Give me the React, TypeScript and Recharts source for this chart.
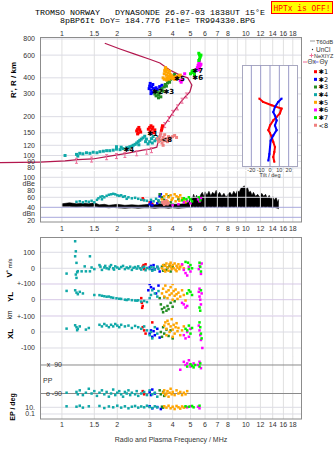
import React from 'react';
import { ComposedChart, ScatterChart, Scatter, Area, XAxis, YAxis, ReferenceLine } from 'recharts';

const SANS = "'Liberation Sans', Arial, sans-serif";
const MONO = "'Liberation Mono', 'DejaVu Sans Mono', monospace";

// frequency axis (MHz, log)
const FREQ_TICKS = [1, 1.5, 2, 3, 4, 5, 6, 7, 8, 9, 10, 12, 14, 16, 18];
const F_DOMAIN: [number, number] = [0.76, 20.2];

// echo classes *1..*8
const COLORS = ['#ff0000', '#0000ff', '#228b22', '#10a8a8', '#ffa500', '#ff00ff', '#00f000', '#f08080'];
const LEGEND_NAMES = ['✱1', '✱2', '✱3', '✱4', '✱5', '✱6', '✱7', '<8'];
const PROFILE_COLOR = '#b3174e';
const NE_COLOR = '#ee6f9a';

// ---- virtual height R' (MHz, km)
const H_TICKS = [80, 90, 100, 120, 150, 200, 300, 400, 600, 800];
const H1 = [[2.55,155],[2.58,160],[2.6,150],[2.62,165],[2.65,158],[2.68,152],[2.58,147],[2.95,160],[3.0,165],[3.02,155],[3.05,170],[3.1,160],[3.15,150],[3.12,166],[3.2,158],[3.5,163],[3.52,170],[3.48,157]];
const H2 = [[2.98,330],[3.0,345],[3.02,362],[3.05,320],[3.08,340],[3.1,308],[3.12,355],[3.15,330],[3.2,315],[3.25,335],[3.3,325],[3.4,342],[3.45,330],[3.05,302],[3.5,350]];
const H3 = [[3.2,300],[3.25,290],[3.3,310],[3.35,295],[3.4,305],[3.45,320],[3.5,330],[3.55,315],[3.6,340],[3.65,355],[3.7,345],[3.75,365],[3.8,380],[3.85,370],[3.9,390],[4.0,400],[4.05,412],[4.1,425],[3.45,285],[3.35,280],[3.95,405]];
const H4 = [[1.04,100],[1.2,102],[1.22,99],[1.25,104],[1.3,103],[1.36,105],[1.42,104],[1.48,106],[1.55,105],[1.61,107],[1.68,108],[1.75,109],[1.82,109],[1.9,110],[1.98,112],[2.07,111],[2.15,113],[2.25,115],[2.3,114],[2.34,117],[2.4,118],[2.44,120],[2.5,122],[2.55,125],[2.6,128],[2.65,131],[2.7,134],[2.76,137],[2.82,141],[2.88,134],[2.94,123],[3.0,128],[3.07,135],[3.13,140],[3.2,130],[3.27,134],[3.34,138],[3.4,131],[1.98,117],[2.1,116],[2.62,121],[2.85,128],[3.1,125]];
const H5 = [[3.55,400],[3.6,430],[3.62,455],[3.65,470],[3.68,445],[3.7,420],[3.72,400],[3.75,460],[3.78,435],[3.8,410],[3.82,390],[3.85,450],[3.88,425],[3.9,400],[3.95,415],[4.0,395],[4.05,405],[4.1,390],[4.15,400],[4.2,410],[4.25,395],[4.3,405],[4.35,415],[3.6,390],[3.7,385],[4.4,420],[3.66,480]];
const H6 = [[5.45,480],[5.5,500],[5.55,520],[5.6,540],[5.65,500],[5.5,470],[5.6,480],[5.7,510],[5.55,460],[5.2,440],[5.25,430],[4.4,380],[4.45,370],[4.5,385],[4.65,430]];
const H7 = [[5.55,620],[5.6,600],[5.65,580],[5.6,560],[5.7,600],[5.55,545],[5.1,445],[5.15,455],[5.2,440],[5.25,425],[5.0,430]];
const H8 = [[3.3,135],[3.35,128],[3.4,140],[3.45,132],[3.5,125],[3.55,138],[3.6,130],[3.62,145],[3.7,135],[3.75,128],[3.8,140],[3.85,133],[3.9,137],[4.0,140],[4.1,143],[4.2,138],[3.45,148],[3.55,120]];

// true-height profile and its NeXIYZ points
const PROFILE = [[1.71,741],[2.07,669],[2.49,610],[3.0,557],[3.41,522],[3.86,460],[4.38,420],[4.83,400],[5.09,352],[4.96,311],[4.66,283],[4.38,255],[4.01,214],[3.77,188],[3.54,166],[3.41,145],[3.28,116],[3.0,112],[2.75,110],[2.25,104],[1.82,99],[1.47,94],[1.22,93],[1.04,91],[0.76,89]];
const PROFILE_TAIL = [[0.76,89],[0.44,88]];
const NE_POINTS = [[1.2,91],[1.45,93],[1.75,97],[1.98,99],[2.2,101],[2.55,104],[2.89,107],[3.07,110],[3.45,148],[3.62,172],[3.8,192],[4.0,214],[4.25,236],[4.5,266],[4.75,292]];

// class markers
const MARK_LABELS = ['✱4', '✱1', '✱2', '✱3', '✱5', '✱7', '✱6', '<8'];
const MARK_F = [2.23, 3.0, 3.2, 3.68, 4.2, 5.28, 5.28, 3.58];
const MARK_H = [111, 147, 316, 316, 392, 457, 404, 134];

// tilt inset (deg, km)
const TILT_TICKS = [-20, -10, 0, 10, 20];
const TILT_X_DEG = [-11.4,-7.4,1.8,12.4,10.6,7.1,3.5,0,-1.8,0,1.8,3.5,5.3,4.6,3.5,4.6];
const TILT_X_H = [277,261,246,232,213,200,188,172,158,150,140,128,117,107,98,90];
const TILT_Y_DEG = [12.4,8.8,5.3,3.5,5.3,7.1,5.3,7.1,3.5,0.7,0,-0.7,-1.8];
const TILT_Y_H = [277,261,239,218,205,188,172,158,144,131,117,103,92];

// ---- amplitude panel (dB)
const DB_TICKS = [20, 40, 60, 80, 100];
const BAND_F = [1.0,1.1,1.2,1.3,1.4,1.5,1.6,1.7,1.8,1.9,2.0,2.2,2.4,2.6,2.8,3.0,3.2,3.4,3.6,3.8,4.0,4.3,4.6,4.9,5.0,5.1,5.2,5.3,5.4,5.5,5.6,5.7,5.8,5.9,6.0,6.15,6.3,6.45,6.6,6.75,6.9,7.05,7.2,7.4,7.6,7.8,8.0,8.2,8.4,8.6,8.8,9.0,9.2,9.4,9.6,9.8,10.0,10.2,10.4,10.6,10.8,11.0,11.3,11.6,11.9,12.2,12.5,12.8,13.1,13.4,13.7,14.0,14.3,14.6,14.9,15.1];
const BAND_LO = [42,42,41,42,41,42,40,40,39,40,39,38,39,38,39,39,38,39,39,38,39,38,39,40,40,40,41,40,41,40,41,40,41,40,41,40,41,40,41,40,41,40,41,40,41,40,41,40,41,40,41,40,41,40,41,40,41,40,41,40,41,40,41,40,41,40,41,40,41,40,40,39,40,39,38,37];
const BAND_HI = [47,49,47,48,47,49,45,46,44,45,46,44,45,44,45,46,45,47,46,45,46,46,47,50,62,55,66,58,64,56,60,66,70,62,71,64,72,63,70,66,74,65,70,62,68,60,66,70,64,72,66,74,70,78,80,83,76,80,70,72,64,70,62,66,60,68,62,66,58,64,56,62,54,60,50,56];
const D1 = [[2.75,58],[2.78,55],[3.0,50],[3.1,47]];
const D2 = [[3.0,46],[3.05,50],[3.1,44],[3.4,62],[3.45,66],[3.5,58],[3.3,48]];
const D3 = [[3.35,52],[3.4,66],[3.5,60],[3.6,55],[3.7,48],[3.8,62],[3.9,50],[4.0,45],[4.3,56]];
const D4 = [[1.2,51],[1.25,52],[1.3,50],[1.35,52],[1.4,51],[1.45,53],[1.5,50],[1.55,55],[1.58,58],[1.62,61],[1.66,62],[1.7,60],[1.75,63],[1.8,65],[1.85,66],[1.9,67],[1.95,66],[2.0,64],[2.05,63],[2.1,64],[2.15,61],[2.2,62],[2.3,60],[2.4,58],[2.5,59],[2.6,57],[2.7,55],[2.8,54],[2.9,53],[3.05,55],[3.15,52],[3.25,57],[3.35,54],[3.45,50],[1.65,56],[2.25,57]];
const D5 = [[3.5,56],[3.6,62],[3.7,66],[3.8,60],[3.9,64],[4.0,58],[4.1,66],[4.2,62],[4.3,60],[4.4,64],[4.5,58],[4.6,54],[4.7,50],[3.75,52],[3.95,55],[4.15,52],[4.35,53],[3.65,50]];
const D6 = [[4.0,44],[4.3,46],[4.6,50],[4.8,53],[5.0,48],[5.5,56],[5.6,52],[5.7,58]];
const D7 = [[4.5,54],[4.6,58],[4.75,56],[4.9,60],[5.0,56],[5.1,52],[5.55,60],[5.65,54]];
const D8 = [[3.5,50],[3.55,48],[3.6,52],[3.65,47],[3.7,50],[3.75,46],[3.8,49],[3.6,45],[3.7,54]];

// ---- V* (m/s)
const V1 = [[2.75,10],[2.78,20],[2.8,-5],[2.85,25]];
const V2 = [[3.0,5],[3.05,15],[3.1,-10],[3.15,20],[3.2,-5],[3.3,8],[3.4,-20]];
const V3 = [[3.5,10],[3.55,-15],[3.6,20],[3.7,-10],[3.75,5],[3.85,15],[3.9,-20],[4.0,8]];
const V4 = [[1.06,-33],[1.18,169],[1.19,106],[1.18,75],[1.2,34],[1.21,-25],[1.19,-39],[1.2,-60],[1.22,-18],[1.28,-19],[1.33,12],[1.35,-19],[1.42,75],[1.42,-19],[1.45,5],[1.5,-5],[1.6,20],[1.62,10],[1.65,-10],[1.7,5],[1.72,15],[1.75,0],[1.8,-5],[1.82,10],[1.85,20],[1.9,0],[1.92,-8],[1.95,12],[2.0,5],[2.05,-3],[2.1,8],[2.15,15],[2.2,-5],[2.25,5],[2.3,0],[2.35,10],[2.4,-10],[2.45,3],[2.5,8],[2.55,-2],[2.6,12],[2.65,0],[2.7,-8],[2.75,5],[2.8,10],[2.85,-12],[2.9,2],[3.0,-5],[3.05,8],[3.1,-15],[3.15,5],[3.2,-8],[3.3,10],[3.35,-3]];
const V5 = [[3.5,0],[3.55,20],[3.6,-10],[3.65,15],[3.7,30],[3.75,5],[3.8,-15],[3.85,25],[3.9,10],[3.95,-5],[4.0,20],[4.05,0],[4.1,30],[4.15,-10],[4.2,15],[4.25,5],[4.3,25],[4.35,-5],[4.4,10],[4.5,20],[4.6,0],[3.65,-20],[3.9,35],[4.2,-18]];
const V6 = [[4.5,25],[4.6,-10],[4.7,-30],[4.8,-45],[4.9,10],[5.0,-20],[5.55,-5],[5.6,15],[5.7,-35],[5.75,30]];
const V7 = [[4.7,40],[4.85,35],[5.0,20],[5.1,0],[4.9,-5],[5.6,35],[5.65,10],[5.7,-20]];

// ---- YL (km)
const Y1 = [[2.7,10],[2.72,-20],[2.75,-40],[2.73,-52]];
const Y2 = [[2.95,60],[3.0,100],[3.05,80],[3.15,70],[3.25,40],[3.35,90]];
const Y3 = [[3.4,10],[3.45,-30],[3.5,-60],[3.55,-80],[3.6,-50],[3.7,-70],[3.75,-40],[3.8,-60],[3.9,-20],[4.0,-45],[3.6,15],[4.1,-10]];
const Y4 = [[1.06,56],[1.18,60],[1.2,45],[1.22,35],[1.25,50],[1.3,40],[1.5,30],[1.6,29],[1.65,25],[1.7,22],[1.75,19],[1.8,20],[1.85,15],[1.9,12],[1.98,9],[2.05,6],[2.1,5],[2.2,0],[2.25,-2],[2.3,2],[2.4,-3],[2.5,-5],[2.55,-6],[2.6,-4],[2.7,-12],[2.8,-8],[2.9,-15],[3.0,10],[3.05,30],[3.1,60],[3.2,40],[3.3,20],[3.35,55]];
const Y5 = [[3.5,40],[3.55,70],[3.6,20],[3.65,90],[3.7,50],[3.75,10],[3.8,60],[3.85,30],[3.9,80],[3.95,40],[4.0,0],[4.05,55],[4.1,25],[4.15,65],[4.2,35],[4.25,5],[4.3,45],[4.4,20],[4.5,60],[4.6,30],[3.7,110],[4.0,100],[4.7,-5]];
const Y6 = [[4.5,-20],[4.6,-30],[4.7,-50],[4.8,-40],[5.55,50],[5.6,20],[5.65,0],[5.7,-30],[5.6,70],[5.75,40]];
const Y7 = [[4.8,40],[4.9,60],[5.0,50],[5.1,30],[5.6,-50],[5.65,-70],[5.7,60]];

// ---- XL (km)
const X1 = [[2.75,30],[2.8,10],[2.85,-10],[3.1,60]];
const X2 = [[3.0,-10],[3.05,10],[3.1,-30],[3.15,5],[3.2,-20],[3.3,20],[3.4,-35]];
const X3 = [[3.45,0],[3.5,-30],[3.55,30],[3.6,-10],[3.7,15],[3.8,-25],[3.9,10],[4.0,-40]];
const X4 = [[1.06,21],[1.18,42],[1.2,30],[1.21,11],[1.22,20],[1.25,35],[1.35,15],[1.4,25],[1.6,45],[1.65,35],[1.7,50],[1.75,40],[1.8,30],[1.85,45],[1.9,35],[1.95,50],[2.0,40],[2.05,30],[2.1,45],[2.2,35],[2.3,40],[2.4,25],[2.5,38],[2.6,30],[2.7,20],[2.8,35],[2.9,10],[3.0,-20],[3.05,0],[3.1,-40],[3.2,30],[3.3,-10]];
const X5 = [[3.6,40],[3.65,60],[3.7,20],[3.75,70],[3.8,50],[3.85,0],[3.9,35],[3.95,80],[4.0,15],[4.05,45],[4.1,-10],[4.15,30],[4.2,55],[4.25,5],[4.3,25],[4.4,-20],[4.5,10],[4.6,35],[3.7,-20],[4.0,-30]];
const X6 = [[4.6,-20],[4.7,-40],[4.8,0],[4.9,-30],[5.0,20],[5.55,40],[5.6,10],[5.65,-20],[5.7,-50],[5.8,-100]];
const X7 = [[4.7,20],[4.8,10],[4.9,40],[5.0,-10],[5.1,25],[5.6,60],[5.65,30],[5.7,-10],[5.75,-40]];

// ---- polarization PP (deg)
const P1 = [[2.75,-75],[2.8,-95]];
const P2 = [[3.0,-80],[3.05,-100],[3.1,-65],[3.2,-90]];
const P3 = [[3.4,-70],[3.45,-95],[3.55,-80],[3.6,-105]];
const P4 = [[1.06,-85],[1.2,-80],[1.22,-95],[1.25,-70],[1.3,-100],[1.35,-85],[1.4,-60],[1.45,-90],[1.5,-75],[1.55,-105],[1.6,-85],[1.65,-70],[1.7,-95],[1.75,-80],[1.8,-110],[1.85,-90],[1.9,-65],[1.95,-100],[2.0,-85],[2.05,-75],[2.1,-95],[2.15,-110],[2.2,-80],[2.25,-90],[2.3,-70],[2.35,-100],[2.4,-85],[2.5,-95],[2.55,-75],[2.6,-105],[2.7,-90],[2.8,-80],[2.9,-100],[3.0,-70],[3.1,-95],[3.2,-85],[3.3,-110]];
const P5 = [[3.55,-85],[3.6,-70],[3.65,-100],[3.7,-90],[3.75,-75],[3.8,-110],[3.85,-85],[3.9,-60],[3.95,-95],[4.0,-80],[4.1,-100],[4.2,-70],[4.3,-90],[4.4,-80],[4.5,-100],[4.6,-85],[4.7,-95],[4.8,-75]];
const P6 = [[4.6,110],[4.7,90],[4.8,100],[4.9,120],[5.0,80],[5.2,100],[5.5,90],[5.6,110],[5.7,70],[4.4,60]];
const P7 = [[4.8,80],[5.0,95],[5.1,85],[5.2,75],[5.3,90],[5.6,80],[5.65,100]];

// ---- EP (deg, log)
const E2 = [[3.0,20],[3.1,5],[3.3,12],[3.45,3]];
const E3 = [[3.5,15],[3.55,8]];
const E4 = [[1.06,20],[1.2,15],[1.25,30],[1.3,8],[1.4,20],[1.6,25],[1.7,6],[1.8,18],[1.9,10],[2.0,30],[2.1,8],[2.2,20],[2.3,5],[2.4,15],[2.5,25],[2.6,8],[2.7,18],[2.8,10],[2.9,30],[3.0,12],[3.1,6],[3.2,20],[3.3,10]];
const E5 = [[3.6,20],[3.7,8],[3.8,30],[3.9,5],[4.0,15],[4.1,3],[4.2,25],[4.3,10],[4.4,4],[4.5,18],[4.6,8],[4.7,12]];
const E6 = [[4.8,10],[5.0,20],[5.5,15],[5.6,5]];
const E7 = [[4.7,20],[4.9,15],[5.1,25],[5.2,10],[5.6,30]];

type Row = number[];
type Layer = { rows: Row[]; color: string };
type Guide = { v: number; color: string };

const pts = (rows: Row[]) => rows.map(([f, v]) => ({ f, v }));
const layers = (sets: (Row[] | null)[]): Layer[] =>
  sets.map((rows, i) => (rows ? { rows, color: COLORS[i] } : null)).filter(Boolean) as Layer[];

const square = (color: string, s: number) => (p: any) =>
  <rect x={p.cx - s / 2} y={p.cy - s / 2} width={s} height={s} fill={color} />;

const errBar = (p: any) => (
  <g stroke={NE_COLOR} strokeWidth={1}>
    <line x1={p.cx} x2={p.cx} y1={p.cy - 2.5} y2={p.cy + 2.5} />
    <line x1={p.cx - 1.5} x2={p.cx + 1.5} y1={p.cy - 2.5} y2={p.cy - 2.5} />
    <line x1={p.cx - 1.5} x2={p.cx + 1.5} y1={p.cy + 2.5} y2={p.cy + 2.5} />
  </g>
);

const markText = (p: any) => (
  <text x={p.cx - 2.5} y={p.cy + 2.5} fontSize={7} fontFamily="'DejaVu Sans', sans-serif" fontWeight="bold" fill="#000">
    {p.payload.label}
  </text>
);

const nothing = () => <g />;

type BandProps = {
  top: number;
  plotH: number;
  domain: [number, number];
  log?: boolean;
  ticks: number[];
  fmt?: (v: number) => string;
  series: Layer[];
  guides: Guide[];
  axis?: 'top' | 'mid' | 'bottom' | 'none';
  size?: number;
  tick?: any;
  data?: any[];
  children?: React.ReactNode;
};

function Band({ top, plotH, domain, log = false, ticks, fmt, series, guides, axis = 'none', size = 2.5, tick, data, children }: BandProps) {
  const axisH = axis === 'none' ? 0 : axis === 'top' ? 12 : 14;
  const margin = axis === 'top' ? 1.5 : axis === 'mid' ? 4.5 : 3.3;
  const chartTop = axis === 'top' ? top - axisH : top;
  const skip9 = axis !== 'mid';
  return (
    <div style={{ position: 'absolute', left: 0, top: chartTop }}>
      <ComposedChart width={335} height={plotH + axisH} data={data} margin={{ top: 0, right: 33, bottom: 0, left: 0 }}>
        <XAxis
          type="number" dataKey="f" scale="log" domain={F_DOMAIN} allowDataOverflow
          ticks={FREQ_TICKS} interval={0} orientation={axis === 'top' ? 'top' : 'bottom'}
          hide={axis === 'none'} height={axisH} axisLine={false} tickLine={false}
          tickSize={0} tickMargin={margin}
          tick={{ fontSize: 7, fill: '#333', fontFamily: SANS }}
          tickFormatter={(v: number) => (skip9 && v === 9 ? '' : String(v))}
        />
        <YAxis
          type="number" dataKey="v" scale={log ? 'log' : 'linear'} domain={domain} allowDataOverflow
          ticks={ticks} interval={0} width={40} axisLine={false} tickLine={false}
          tickSize={0} tickMargin={5}
          tick={tick ?? { fontSize: 7, fill: '#333', fontFamily: SANS }}
          tickFormatter={fmt}
        />
        {FREQ_TICKS.map((f) => <ReferenceLine key={'g' + f} x={f} stroke="#e0e0e0" />)}
        {guides.map((g) => <ReferenceLine key={'h' + g.v} y={g.v} stroke={g.color} />)}
        {children}
        {series.map((s, i) => (
          <Scatter key={i} data={pts(s.rows)} fill={s.color} shape={square(s.color, size)} isAnimationActive={false} />
        ))}
      </ComposedChart>
    </div>
  );
}

const GRID = '#dcdce4';
const LAV = '#d6c8e6';
const BLUE_LINE = '#a8a8dc';

const ppTick = (p: any) => (
  <text x={p.x + 27} y={p.y + 2.5} textAnchor="end" fontSize={7} fill="#333" fontFamily={SANS} style={{ whiteSpace: 'pre' }}>
    {p.payload.value === 90 ? 'x  90' : 'o -90'}
  </text>
);

export default function App() {
  const bandRows = BAND_F.map((f, i) => ({ f, band: [BAND_LO[i], BAND_HI[i]] }));
  const marks = MARK_LABELS.map((label, i) => ({ f: MARK_F[i], v: MARK_H[i], label }));
  const tiltX = TILT_X_DEG.map((t, i) => ({ t, h: TILT_X_H[i] }));
  const tiltY = TILT_Y_DEG.map((t, i) => ({ t, h: TILT_Y_H[i] }));

  return (
    <div style={{ position: 'absolute', left: 0, top: 0, width: 335, height: 451, background: '#fff', overflow: 'hidden' }}>
      <style>{'svg { overflow: visible; }'}</style>
      {/* virtual / true height */}
      <Band
        top={37} plotH={133} domain={[77.2, 829]} log ticks={H_TICKS} axis="top" size={3}
        series={layers([H1, H2, H3, H4, H5, H6, H7, H8])}
        guides={H_TICKS.map((v) => ({ v, color: GRID }))}
      >
        <ReferenceLine segment={PROFILE_TAIL.map(([f, v]) => ({ x: f, y: v }))} stroke={PROFILE_COLOR} strokeWidth={1.2} ifOverflow="visible" />
        <Scatter data={pts(PROFILE)} line={{ stroke: PROFILE_COLOR, strokeWidth: 1.2 }} shape={nothing} isAnimationActive={false} />
        <Scatter data={pts(NE_POINTS)} shape={errBar} isAnimationActive={false} />
      </Band>
      {/* amplitude */}
      <Band
        top={171} plotH={51} domain={[10.6, 112.6]} ticks={DB_TICKS} axis="mid" data={bandRows}
        fmt={(v) => (v === 80 ? 'dBe 80' : v === 20 ? 'dBn 20' : String(v))}
        series={layers([D1, D2, D3, D4, D5, D6, D7, D8])}
        guides={[{ v: 100, color: GRID }, { v: 80, color: GRID }, { v: 60, color: GRID }, { v: 40, color: BLUE_LINE }, { v: 20, color: BLUE_LINE }]}
      >
        <Area type="linear" dataKey="band" stroke="#000" strokeWidth={0.6} fill="#000" fillOpacity={1} isAnimationActive={false} />
      </Band>
      {/* V* */}
      <Band
        top={237} plotH={47.3} domain={[-100, 195.6]} ticks={[100, 0]}
        series={layers([V1, V2, V3, V4, V5, V6, V7])}
        guides={[{ v: 100, color: GRID }, { v: 0, color: GRID }]}
      />
      {/* YL */}
      <Band
        top={284.3} plotH={31.4} domain={[-100, 100]} ticks={[100, 0]}
        fmt={(v) => (v === 100 ? '+-100' : String(v))}
        series={layers([Y1, Y2, Y3, Y4, Y5, Y6, Y7])}
        guides={[{ v: 100, color: LAV }, { v: 0, color: LAV }]}
      />
      {/* XL */}
      <Band
        top={315.7} plotH={40.3} domain={[-152, 100]} ticks={[100, 0, -100]}
        fmt={(v) => (v === 100 ? '+-100' : String(v))}
        series={layers([X1, X2, X3, X4, X5, X6, X7])}
        guides={[{ v: 100, color: LAV }, { v: 0, color: GRID }, { v: -100, color: GRID }]}
      />
      {/* PP */}
      <Band
        top={356} plotH={44} domain={[-131, 146.8]} ticks={[90, -90]} tick={ppTick}
        series={layers([P1, P2, P3, P4, P5, P6, P7])}
        guides={[{ v: 90, color: '#8a8a8a' }, { v: -90, color: '#8a8a8a' }]}
      />
      {/* EP */}
      <Band
        top={400} plotH={19} domain={[0.0032, 1514]} log ticks={[10, 0.1]} axis="bottom"
        fmt={(v) => (v === 10 ? '10.' : '0.1')}
        series={layers([null, E2, E3, E4, E5, E6, E7])}
        guides={[{ v: 10, color: GRID }, { v: 0.1, color: GRID }]}
      />

      <svg width={335} height={451} style={{ position: 'absolute', left: 0, top: 0 }}>
        <text x={35} y={15} fontFamily={MONO} fontSize={8} textLength={230} lengthAdjust="spacingAndGlyphs" style={{ whiteSpace: 'pre' }}>
          TROMSO NORWAY   DYNASONDE 26-07-03 1838UT 15°E
        </text>
        <text x={60} y={22.8} fontFamily={MONO} fontSize={8} textLength={195} lengthAdjust="spacingAndGlyphs" style={{ whiteSpace: 'pre' }}>
          8pBP6It DoY= 184.776 File= TR994330.BPG
        </text>
        <rect x={271.5} y={1.5} width={61} height={12} fill="#ffff00" stroke="#ff0000" />
        <text x={273.5} y={10.6} fontFamily={MONO} fontSize={8.4} fill="#ff0000" textLength={57} lengthAdjust="spacingAndGlyphs">HPTx is OFF!</text>

        <rect x={40.5} y={37.5} width={261} height={184.5} fill="none" stroke="#8c8c8c" />
        <rect x={40.5} y={237.5} width={261} height={181.5} fill="none" stroke="#8c8c8c" />

        <text transform="translate(16,80) rotate(-90)" textAnchor="middle" fontFamily={SANS} fontWeight="bold" fontSize={8}>R', R / km</text>
        <text transform="translate(12,268) rotate(-90)" textAnchor="middle" fontFamily={SANS}>
          <tspan fontWeight="bold" fontSize={8}>V</tspan>
          <tspan fontSize={6} dy={-2}>*</tspan>
          <tspan fontSize={6} dy={2}> m/s</tspan>
        </text>
        <text transform="translate(12.5,297) rotate(-90)" textAnchor="middle" fontFamily={SANS} fontWeight="bold" fontSize={8}>YL</text>
        <text transform="translate(12,315) rotate(-90)" textAnchor="middle" fontFamily={SANS} fontSize={6.5}>km</text>
        <text transform="translate(12.5,334) rotate(-90)" textAnchor="middle" fontFamily={SANS} fontWeight="bold" fontSize={8}>XL</text>
        <text transform="translate(15,407) rotate(-90)" textAnchor="middle" fontFamily={SANS} fontWeight="bold" fontSize={7}>EP / deg</text>
        <text x={43} y={382.5} fontFamily={SANS} fontSize={7} fill="#333">PP</text>
        <text x={171} y={441.5} textAnchor="middle" fontFamily={SANS} fontSize={7} fill="#333">Radio and Plasma Frequency / MHz</text>

        {/* legend */}
        <g fontFamily={SANS} fontSize={6.5} fill="#333">
          <line x1={310} x2={315} y1={41} y2={41} stroke="#999" />
          <text x={316} y={43.5} fontSize={5.8}>T60dB</text>
          <circle cx={312.5} cy={49.5} r={0.7} fill="#333" />
          <text x={316} y={52}>UnCl</text>
          <line x1={311.5} x2={311.5} y1={53.5} y2={57.5} stroke={NE_COLOR} />
          <line x1={309.5} x2={313.5} y1={55.5} y2={55.5} stroke={NE_COLOR} />
          <text x={314} y={58.2} fontSize={5.5}>NeXIYZ</text>
          <line x1={303} x2={307} y1={62} y2={62} stroke={NE_COLOR} />
          <text x={307.5} y={64.2}>Θx</text>
          <line x1={314} x2={318.5} y1={62} y2={62} stroke="#6a6ae0" />
          <text x={319.5} y={64.2}>Θy</text>
          {LEGEND_NAMES.map((name, i) => (
            <g key={name}>
              <rect x={314} y={70.2 + i * 7.65} width={3} height={3} fill={COLORS[i]} />
              <text x={318.5} y={74 + i * 7.65} fontFamily="'DejaVu Sans', sans-serif" fontSize={6.5} fill="#000">{name}</text>
            </g>
          ))}
        </g>
        <text x={270} y={177} textAnchor="middle" fontFamily={SANS} fontSize={5.5} fill="#333">Tilt / deg</text>
      </svg>

      {/* class markers over the height panel */}
      <div style={{ position: 'absolute', left: 0, top: 25 }}>
        <ScatterChart width={335} height={145} margin={{ top: 0, right: 33, bottom: 0, left: 0 }}>
          <XAxis type="number" dataKey="f" scale="log" domain={F_DOMAIN} allowDataOverflow orientation="top" height={12} tick={false} axisLine={false} tickLine={false} />
          <YAxis type="number" dataKey="v" scale="log" domain={[77.2, 829]} allowDataOverflow width={40} tick={false} axisLine={false} tickLine={false} />
          <Scatter data={marks} shape={markText} isAnimationActive={false} />
        </ScatterChart>
      </div>

      {/* tilt inset */}
      <div style={{ position: 'absolute', left: 242, top: 65, width: 56, height: 102, background: '#fff', border: '1px solid #a8a8c0', boxSizing: 'border-box' }} />
      <div style={{ position: 'absolute', left: 242, top: 65 }}>
        <ScatterChart width={56} height={110} margin={{ top: 0, right: 0, bottom: 0, left: 0 }}>
          <XAxis
            type="number" dataKey="t" domain={[-30, 30]} allowDataOverflow ticks={TILT_TICKS} interval={0}
            height={8} axisLine={false} tickLine={false} tickSize={0} tickMargin={1.5}
            tick={{ fontSize: 5.5, fill: '#333', fontFamily: SANS }}
          />
          <YAxis type="number" dataKey="h" scale="log" domain={[82, 504]} allowDataOverflow hide />
          {TILT_TICKS.map((t) => <ReferenceLine key={t} x={t} stroke="#9a9ac8" />)}
          <Scatter data={tiltX} line={{ stroke: '#ff0000', strokeWidth: 2 }} shape={square('#ff0000', 2)} isAnimationActive={false} />
          <Scatter data={tiltY} line={{ stroke: '#0000ff', strokeWidth: 2 }} shape={square('#0000ff', 2)} isAnimationActive={false} />
        </ScatterChart>
      </div>
    </div>
  );
}
